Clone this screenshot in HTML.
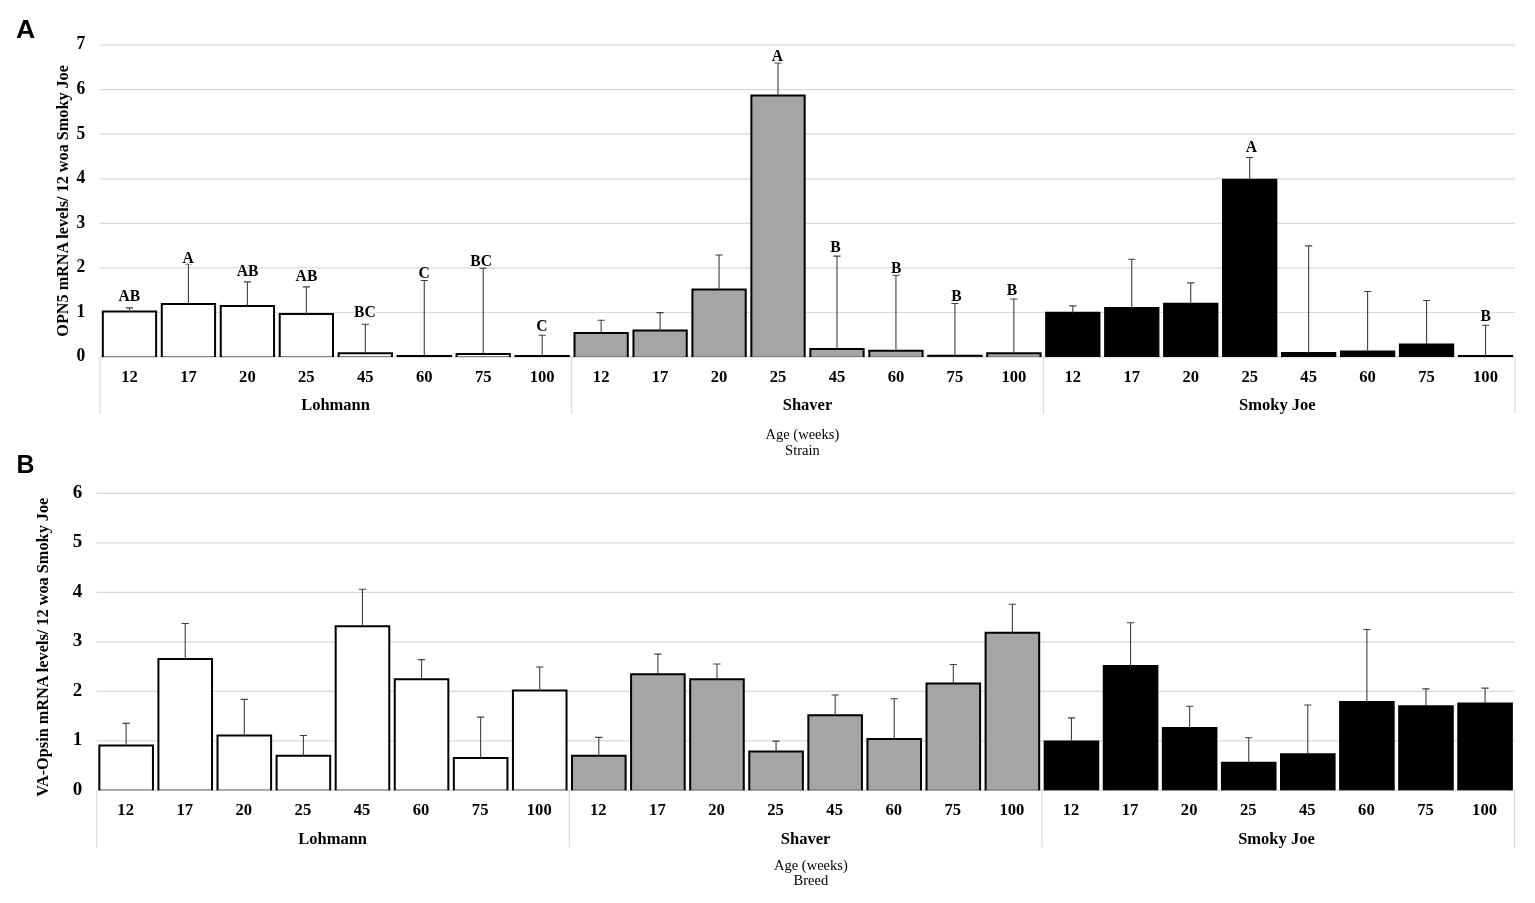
<!DOCTYPE html>
<html lang="en"><head><meta charset="utf-8"><title>OPN5 and VA-Opsin mRNA levels</title>
<style>
html,body{margin:0;padding:0;background:#fff;}
body{width:1535px;height:903px;overflow:hidden;}
svg{display:block;}
.grid{stroke:#d9d9d9;stroke-width:1.2;}
.sep{stroke:#d9d9d9;stroke-width:1.1;}
.bar{stroke:#000;stroke-width:2;fill:none;}
.base{stroke:#808080;stroke-width:1.2;}
.err{stroke:#404040;stroke-width:1.1;fill:none;}
text{font-family:"Liberation Serif","Times New Roman",serif;fill:#000;}
.tick{font-size:17.5px;font-weight:bold;text-anchor:end;}
.cat{font-size:17.5px;font-weight:bold;text-anchor:middle;}
.grp{font-size:16.5px;font-weight:bold;text-anchor:middle;}
.let{font-size:16.8px;font-weight:bold;text-anchor:middle;paint-order:stroke;stroke:#fff;stroke-width:2.5px;stroke-linejoin:round;}
.ytitle{font-size:16.14px;font-weight:bold;text-anchor:middle;dominant-baseline:central;}
.ax{font-size:14.5px;text-anchor:middle;}
.panel{font-family:"Liberation Sans",Arial,sans-serif;font-size:26px;font-weight:bold;}
</style></head>
<body>
<svg width="1535" height="903" viewBox="0 0 1535 903">
<rect width="1535" height="903" fill="#fff"/>
<line x1="100" y1="312.52" x2="1515" y2="312.52" class="grid"/>
<line x1="100" y1="267.94" x2="1515" y2="267.94" class="grid"/>
<line x1="100" y1="223.36" x2="1515" y2="223.36" class="grid"/>
<line x1="100" y1="178.78" x2="1515" y2="178.78" class="grid"/>
<line x1="100" y1="134.2" x2="1515" y2="134.2" class="grid"/>
<line x1="100" y1="89.62" x2="1515" y2="89.62" class="grid"/>
<line x1="100" y1="45.04" x2="1515" y2="45.04" class="grid"/>
<text transform="translate(85.2 361.4) scale(1 1.05)" class="tick" style="font-size:17.5px">0</text>
<text transform="translate(85.2 316.82) scale(1 1.05)" class="tick" style="font-size:17.5px">1</text>
<text transform="translate(85.2 272.24) scale(1 1.05)" class="tick" style="font-size:17.5px">2</text>
<text transform="translate(85.2 227.66) scale(1 1.05)" class="tick" style="font-size:17.5px">3</text>
<text transform="translate(85.2 183.08) scale(1 1.05)" class="tick" style="font-size:17.5px">4</text>
<text transform="translate(85.2 138.5) scale(1 1.05)" class="tick" style="font-size:17.5px">5</text>
<text transform="translate(85.2 93.92) scale(1 1.05)" class="tick" style="font-size:17.5px">6</text>
<text transform="translate(85.2 49.34) scale(1 1.05)" class="tick" style="font-size:17.5px">7</text>
<line x1="100" y1="357.1" x2="1515" y2="357.1" class="grid"/>
<rect x="102.83" y="311.4" width="53.3" height="45.6" fill="#ffffff"/>
<line x1="101.83" y1="356.5" x2="157.13" y2="356.5" class="base"/>
<path d="M102.83 357V311.4H156.13V357" class="bar"/>
<rect x="161.79" y="304" width="53.3" height="53" fill="#ffffff"/>
<line x1="160.79" y1="356.5" x2="216.09" y2="356.5" class="base"/>
<path d="M161.79 357V304H215.09V357" class="bar"/>
<rect x="220.75" y="306" width="53.3" height="51" fill="#ffffff"/>
<line x1="219.75" y1="356.5" x2="275.05" y2="356.5" class="base"/>
<path d="M220.75 357V306H274.05V357" class="bar"/>
<rect x="279.7" y="313.9" width="53.3" height="43.1" fill="#ffffff"/>
<line x1="278.7" y1="356.5" x2="334" y2="356.5" class="base"/>
<path d="M279.7 357V313.9H333V357" class="bar"/>
<rect x="338.66" y="353.3" width="53.3" height="3.7" fill="#ffffff"/>
<line x1="337.66" y1="356.5" x2="392.96" y2="356.5" class="base"/>
<path d="M338.66 357V353.3H391.96V357" class="bar"/>
<rect x="397.62" y="356" width="53.3" height="1" fill="#ffffff"/>
<line x1="396.62" y1="356.5" x2="451.92" y2="356.5" class="base"/>
<path d="M397.62 357V356H450.92V357" class="bar"/>
<rect x="456.58" y="354" width="53.3" height="3" fill="#ffffff"/>
<line x1="455.58" y1="356.5" x2="510.88" y2="356.5" class="base"/>
<path d="M456.58 357V354H509.88V357" class="bar"/>
<rect x="515.54" y="355.9" width="53.3" height="1.1" fill="#ffffff"/>
<line x1="514.54" y1="356.5" x2="569.84" y2="356.5" class="base"/>
<path d="M515.54 357V355.9H568.84V357" class="bar"/>
<rect x="574.5" y="332.9" width="53.3" height="24.1" fill="#a5a5a5"/>
<line x1="573.5" y1="356.5" x2="628.8" y2="356.5" class="base"/>
<path d="M574.5 357V332.9H627.8V357" class="bar"/>
<rect x="633.45" y="330.6" width="53.3" height="26.4" fill="#a5a5a5"/>
<line x1="632.45" y1="356.5" x2="687.75" y2="356.5" class="base"/>
<path d="M633.45 357V330.6H686.75V357" class="bar"/>
<rect x="692.41" y="289.5" width="53.3" height="67.5" fill="#a5a5a5"/>
<line x1="691.41" y1="356.5" x2="746.71" y2="356.5" class="base"/>
<path d="M692.41 357V289.5H745.71V357" class="bar"/>
<rect x="751.37" y="95.5" width="53.3" height="261.5" fill="#a5a5a5"/>
<line x1="750.37" y1="356.5" x2="805.67" y2="356.5" class="base"/>
<path d="M751.37 357V95.5H804.67V357" class="bar"/>
<rect x="810.33" y="349.05" width="53.3" height="7.95" fill="#a5a5a5"/>
<line x1="809.33" y1="356.5" x2="864.63" y2="356.5" class="base"/>
<path d="M810.33 357V349.05H863.63V357" class="bar"/>
<rect x="869.29" y="350.8" width="53.3" height="6.2" fill="#a5a5a5"/>
<line x1="868.29" y1="356.5" x2="923.59" y2="356.5" class="base"/>
<path d="M869.29 357V350.8H922.59V357" class="bar"/>
<rect x="928.25" y="355.85" width="53.3" height="1.15" fill="#a5a5a5"/>
<line x1="927.25" y1="356.5" x2="982.55" y2="356.5" class="base"/>
<path d="M928.25 357V355.85H981.55V357" class="bar"/>
<rect x="987.2" y="353.3" width="53.3" height="3.7" fill="#a5a5a5"/>
<line x1="986.2" y1="356.5" x2="1041.5" y2="356.5" class="base"/>
<path d="M987.2 357V353.3H1040.5V357" class="bar"/>
<rect x="1046.16" y="312.8" width="53.3" height="44.2" fill="#000000"/>
<path d="M1046.16 357V312.8H1099.46V357" class="bar"/>
<rect x="1105.12" y="308.1" width="53.3" height="48.9" fill="#000000"/>
<path d="M1105.12 357V308.1H1158.42V357" class="bar"/>
<rect x="1164.08" y="303.8" width="53.3" height="53.2" fill="#000000"/>
<path d="M1164.08 357V303.8H1217.38V357" class="bar"/>
<rect x="1223.04" y="179.8" width="53.3" height="177.2" fill="#000000"/>
<path d="M1223.04 357V179.8H1276.34V357" class="bar"/>
<rect x="1282" y="353.05" width="53.3" height="3.95" fill="#000000"/>
<path d="M1282 357V353.05H1335.3V357" class="bar"/>
<rect x="1340.95" y="351.6" width="53.3" height="5.4" fill="#000000"/>
<path d="M1340.95 357V351.6H1394.25V357" class="bar"/>
<rect x="1399.91" y="344.45" width="53.3" height="12.55" fill="#000000"/>
<path d="M1399.91 357V344.45H1453.21V357" class="bar"/>
<rect x="1458.87" y="355.95" width="53.3" height="1.05" fill="#000000"/>
<path d="M1458.87 357V355.95H1512.17V357" class="bar"/>
<line x1="100" y1="357.6" x2="100" y2="414" class="sep"/>
<line x1="571.67" y1="357.6" x2="571.67" y2="414" class="sep"/>
<line x1="1043.33" y1="357.6" x2="1043.33" y2="414" class="sep"/>
<line x1="1515" y1="357.6" x2="1515" y2="414" class="sep"/>
<path d="M129.48 311.4V307.9M125.88 307.9H133.08" class="err"/>
<path d="M188.44 304V264M184.84 264H192.04" class="err"/>
<path d="M247.4 306V281.9M243.8 281.9H251" class="err"/>
<path d="M306.35 313.9V286.9M302.75 286.9H309.95" class="err"/>
<path d="M365.31 353.3V324.3M361.71 324.3H368.91" class="err"/>
<path d="M424.27 356V280.5M420.67 280.5H427.87" class="err"/>
<path d="M483.23 354V268.3M479.63 268.3H486.83" class="err"/>
<path d="M542.19 355.9V335.3M538.59 335.3H545.79" class="err"/>
<path d="M601.15 332.9V320.2M597.55 320.2H604.75" class="err"/>
<path d="M660.1 330.6V312.6M656.5 312.6H663.7" class="err"/>
<path d="M719.06 289.5V255M715.46 255H722.66" class="err"/>
<path d="M778.02 95.5V63M774.42 63H781.62" class="err"/>
<path d="M836.98 349.05V256.1M833.38 256.1H840.58" class="err"/>
<path d="M895.94 350.8V275.3M892.34 275.3H899.54" class="err"/>
<path d="M954.9 355.85V303.5M951.3 303.5H958.5" class="err"/>
<path d="M1013.85 353.3V299M1010.25 299H1017.45" class="err"/>
<path d="M1072.81 312.8V305.9M1069.21 305.9H1076.41" class="err"/>
<path d="M1131.77 308.1V259.3M1128.17 259.3H1135.37" class="err"/>
<path d="M1190.73 303.8V282.9M1187.13 282.9H1194.33" class="err"/>
<path d="M1249.69 179.8V157.5M1246.09 157.5H1253.29" class="err"/>
<path d="M1308.65 353.05V245.9M1305.05 245.9H1312.25" class="err"/>
<path d="M1367.6 351.6V291.5M1364 291.5H1371.2" class="err"/>
<path d="M1426.56 344.45V300.5M1422.96 300.5H1430.16" class="err"/>
<path d="M1485.52 355.95V325.3M1481.92 325.3H1489.12" class="err"/>
<text transform="translate(129.48 382.1) scale(0.95 1)" class="cat">12</text>
<text transform="translate(188.44 382.1) scale(0.95 1)" class="cat">17</text>
<text transform="translate(247.4 382.1) scale(0.95 1)" class="cat">20</text>
<text transform="translate(306.35 382.1) scale(0.95 1)" class="cat">25</text>
<text transform="translate(365.31 382.1) scale(0.95 1)" class="cat">45</text>
<text transform="translate(424.27 382.1) scale(0.95 1)" class="cat">60</text>
<text transform="translate(483.23 382.1) scale(0.95 1)" class="cat">75</text>
<text transform="translate(542.19 382.1) scale(0.95 1)" class="cat">100</text>
<text transform="translate(601.15 382.1) scale(0.95 1)" class="cat">12</text>
<text transform="translate(660.1 382.1) scale(0.95 1)" class="cat">17</text>
<text transform="translate(719.06 382.1) scale(0.95 1)" class="cat">20</text>
<text transform="translate(778.02 382.1) scale(0.95 1)" class="cat">25</text>
<text transform="translate(836.98 382.1) scale(0.95 1)" class="cat">45</text>
<text transform="translate(895.94 382.1) scale(0.95 1)" class="cat">60</text>
<text transform="translate(954.9 382.1) scale(0.95 1)" class="cat">75</text>
<text transform="translate(1013.85 382.1) scale(0.95 1)" class="cat">100</text>
<text transform="translate(1072.81 382.1) scale(0.95 1)" class="cat">12</text>
<text transform="translate(1131.77 382.1) scale(0.95 1)" class="cat">17</text>
<text transform="translate(1190.73 382.1) scale(0.95 1)" class="cat">20</text>
<text transform="translate(1249.69 382.1) scale(0.95 1)" class="cat">25</text>
<text transform="translate(1308.65 382.1) scale(0.95 1)" class="cat">45</text>
<text transform="translate(1367.6 382.1) scale(0.95 1)" class="cat">60</text>
<text transform="translate(1426.56 382.1) scale(0.95 1)" class="cat">75</text>
<text transform="translate(1485.52 382.1) scale(0.95 1)" class="cat">100</text>
<text x="335.53" y="410.4" class="grp">Lohmann</text>
<text x="807.5" y="410.4" class="grp">Shaver</text>
<text x="1277.37" y="410.4" class="grp">Smoky Joe</text>
<text transform="translate(129.35 300.8) scale(0.93 1)" class="let">AB</text>
<text transform="translate(188.05 263) scale(0.93 1)" class="let">A</text>
<text transform="translate(247.5 275.8) scale(0.93 1)" class="let">AB</text>
<text transform="translate(306.45 281) scale(0.93 1)" class="let">AB</text>
<text transform="translate(364.9 316.8) scale(0.93 1)" class="let">BC</text>
<text transform="translate(424.25 277.6) scale(0.93 1)" class="let">C</text>
<text transform="translate(481.1 265.8) scale(0.93 1)" class="let">BC</text>
<text transform="translate(541.85 330.8) scale(0.93 1)" class="let">C</text>
<text transform="translate(777.4 60.5) scale(0.93 1)" class="let">A</text>
<text transform="translate(835.4 252.4) scale(0.93 1)" class="let">B</text>
<text transform="translate(896.15 273) scale(0.93 1)" class="let">B</text>
<text transform="translate(956.35 301.1) scale(0.93 1)" class="let">B</text>
<text transform="translate(1011.85 295.2) scale(0.93 1)" class="let">B</text>
<text transform="translate(1251.45 152.3) scale(0.93 1)" class="let">A</text>
<text transform="translate(1485.8 320.9) scale(0.93 1)" class="let">B</text>
<text transform="translate(63.2 200.9) rotate(-90)" class="ytitle" style="font-size:16.2px">OPN5 mRNA levels/ 12 woa Smoky Joe</text>
<text x="802.4" y="438.8" class="ax">Age (weeks)</text>
<text x="802.4" y="454.9" class="ax">Strain</text>
<line x1="96.6" y1="740.95" x2="1514.6" y2="740.95" class="grid"/>
<line x1="96.6" y1="691.45" x2="1514.6" y2="691.45" class="grid"/>
<line x1="96.6" y1="641.95" x2="1514.6" y2="641.95" class="grid"/>
<line x1="96.6" y1="592.45" x2="1514.6" y2="592.45" class="grid"/>
<line x1="96.6" y1="542.95" x2="1514.6" y2="542.95" class="grid"/>
<line x1="96.6" y1="493.45" x2="1514.6" y2="493.45" class="grid"/>
<text transform="translate(82.2 794.6) scale(1 1.03)" class="tick" style="font-size:19px">0</text>
<text transform="translate(82.2 745.1) scale(1 1.03)" class="tick" style="font-size:19px">1</text>
<text transform="translate(82.2 695.6) scale(1 1.03)" class="tick" style="font-size:19px">2</text>
<text transform="translate(82.2 646.1) scale(1 1.03)" class="tick" style="font-size:19px">3</text>
<text transform="translate(82.2 596.6) scale(1 1.03)" class="tick" style="font-size:19px">4</text>
<text transform="translate(82.2 547.1) scale(1 1.03)" class="tick" style="font-size:19px">5</text>
<text transform="translate(82.2 497.6) scale(1 1.03)" class="tick" style="font-size:19px">6</text>
<line x1="96.6" y1="790.45" x2="1514.6" y2="790.45" class="grid"/>
<rect x="99.34" y="745.4" width="53.6" height="44.9" fill="#ffffff"/>
<line x1="98.34" y1="789.8" x2="153.94" y2="789.8" class="base"/>
<path d="M99.34 790.3V745.4H152.94V790.3" class="bar"/>
<rect x="158.42" y="659" width="53.6" height="131.3" fill="#ffffff"/>
<line x1="157.42" y1="789.8" x2="213.03" y2="789.8" class="base"/>
<path d="M158.42 790.3V659H212.03V790.3" class="bar"/>
<rect x="217.51" y="735.6" width="53.6" height="54.7" fill="#ffffff"/>
<line x1="216.51" y1="789.8" x2="272.11" y2="789.8" class="base"/>
<path d="M217.51 790.3V735.6H271.11V790.3" class="bar"/>
<rect x="276.59" y="755.8" width="53.6" height="34.5" fill="#ffffff"/>
<line x1="275.59" y1="789.8" x2="331.19" y2="789.8" class="base"/>
<path d="M276.59 790.3V755.8H330.19V790.3" class="bar"/>
<rect x="335.68" y="626.2" width="53.6" height="164.1" fill="#ffffff"/>
<line x1="334.68" y1="789.8" x2="390.28" y2="789.8" class="base"/>
<path d="M335.68 790.3V626.2H389.28V790.3" class="bar"/>
<rect x="394.76" y="679.3" width="53.6" height="111" fill="#ffffff"/>
<line x1="393.76" y1="789.8" x2="449.36" y2="789.8" class="base"/>
<path d="M394.76 790.3V679.3H448.36V790.3" class="bar"/>
<rect x="453.84" y="757.9" width="53.6" height="32.4" fill="#ffffff"/>
<line x1="452.84" y1="789.8" x2="508.44" y2="789.8" class="base"/>
<path d="M453.84 790.3V757.9H507.44V790.3" class="bar"/>
<rect x="512.93" y="690.4" width="53.6" height="99.9" fill="#ffffff"/>
<line x1="511.93" y1="789.8" x2="567.52" y2="789.8" class="base"/>
<path d="M512.93 790.3V690.4H566.52V790.3" class="bar"/>
<rect x="572.01" y="755.8" width="53.6" height="34.5" fill="#a5a5a5"/>
<line x1="571.01" y1="789.8" x2="626.61" y2="789.8" class="base"/>
<path d="M572.01 790.3V755.8H625.61V790.3" class="bar"/>
<rect x="631.09" y="674.3" width="53.6" height="116" fill="#a5a5a5"/>
<line x1="630.09" y1="789.8" x2="685.69" y2="789.8" class="base"/>
<path d="M631.09 790.3V674.3H684.69V790.3" class="bar"/>
<rect x="690.18" y="679.2" width="53.6" height="111.1" fill="#a5a5a5"/>
<line x1="689.18" y1="789.8" x2="744.77" y2="789.8" class="base"/>
<path d="M690.18 790.3V679.2H743.77V790.3" class="bar"/>
<rect x="749.26" y="751.5" width="53.6" height="38.8" fill="#a5a5a5"/>
<line x1="748.26" y1="789.8" x2="803.86" y2="789.8" class="base"/>
<path d="M749.26 790.3V751.5H802.86V790.3" class="bar"/>
<rect x="808.34" y="715.3" width="53.6" height="75" fill="#a5a5a5"/>
<line x1="807.34" y1="789.8" x2="862.94" y2="789.8" class="base"/>
<path d="M808.34 790.3V715.3H861.94V790.3" class="bar"/>
<rect x="867.43" y="738.9" width="53.6" height="51.4" fill="#a5a5a5"/>
<line x1="866.43" y1="789.8" x2="922.02" y2="789.8" class="base"/>
<path d="M867.43 790.3V738.9H921.02V790.3" class="bar"/>
<rect x="926.51" y="683.6" width="53.6" height="106.7" fill="#a5a5a5"/>
<line x1="925.51" y1="789.8" x2="981.11" y2="789.8" class="base"/>
<path d="M926.51 790.3V683.6H980.11V790.3" class="bar"/>
<rect x="985.59" y="632.7" width="53.6" height="157.6" fill="#a5a5a5"/>
<line x1="984.59" y1="789.8" x2="1040.19" y2="789.8" class="base"/>
<path d="M985.59 790.3V632.7H1039.19V790.3" class="bar"/>
<rect x="1044.67" y="741.4" width="53.6" height="48.9" fill="#000000"/>
<path d="M1044.67 790.3V741.4H1098.27V790.3" class="bar"/>
<rect x="1103.76" y="666.1" width="53.6" height="124.2" fill="#000000"/>
<path d="M1103.76 790.3V666.1H1157.36V790.3" class="bar"/>
<rect x="1162.84" y="728.1" width="53.6" height="62.2" fill="#000000"/>
<path d="M1162.84 790.3V728.1H1216.44V790.3" class="bar"/>
<rect x="1221.92" y="762.7" width="53.6" height="27.6" fill="#000000"/>
<path d="M1221.92 790.3V762.7H1275.52V790.3" class="bar"/>
<rect x="1281.01" y="754.3" width="53.6" height="36" fill="#000000"/>
<path d="M1281.01 790.3V754.3H1334.61V790.3" class="bar"/>
<rect x="1340.09" y="702" width="53.6" height="88.3" fill="#000000"/>
<path d="M1340.09 790.3V702H1393.69V790.3" class="bar"/>
<rect x="1399.17" y="706.35" width="53.6" height="83.95" fill="#000000"/>
<path d="M1399.17 790.3V706.35H1452.77V790.3" class="bar"/>
<rect x="1458.26" y="703.4" width="53.6" height="86.9" fill="#000000"/>
<path d="M1458.26 790.3V703.4H1511.86V790.3" class="bar"/>
<line x1="96.6" y1="790.95" x2="96.6" y2="847.2" class="sep"/>
<line x1="569.27" y1="790.95" x2="569.27" y2="847.2" class="sep"/>
<line x1="1041.93" y1="790.95" x2="1041.93" y2="847.2" class="sep"/>
<line x1="1514.6" y1="790.95" x2="1514.6" y2="847.2" class="sep"/>
<path d="M126.14 745.4V723.4M122.54 723.4H129.74" class="err"/>
<path d="M185.22 659V623.5M181.62 623.5H188.82" class="err"/>
<path d="M244.31 735.6V699.4M240.71 699.4H247.91" class="err"/>
<path d="M303.39 755.8V735.5M299.79 735.5H306.99" class="err"/>
<path d="M362.48 626.2V589.2M358.88 589.2H366.08" class="err"/>
<path d="M421.56 679.3V659.6M417.96 659.6H425.16" class="err"/>
<path d="M480.64 757.9V717.1M477.04 717.1H484.24" class="err"/>
<path d="M539.73 690.4V667M536.12 667H543.33" class="err"/>
<path d="M598.81 755.8V737.4M595.21 737.4H602.41" class="err"/>
<path d="M657.89 674.3V654.1M654.29 654.1H661.49" class="err"/>
<path d="M716.98 679.2V664M713.38 664H720.58" class="err"/>
<path d="M776.06 751.5V741.1M772.46 741.1H779.66" class="err"/>
<path d="M835.14 715.3V695M831.54 695H838.74" class="err"/>
<path d="M894.23 738.9V698.7M890.62 698.7H897.83" class="err"/>
<path d="M953.31 683.6V664.5M949.71 664.5H956.91" class="err"/>
<path d="M1012.39 632.7V604.3M1008.79 604.3H1015.99" class="err"/>
<path d="M1071.47 741.4V717.9M1067.88 717.9H1075.07" class="err"/>
<path d="M1130.56 666.1V622.7M1126.96 622.7H1134.16" class="err"/>
<path d="M1189.64 728.1V706.3M1186.04 706.3H1193.24" class="err"/>
<path d="M1248.72 762.7V737.8M1245.12 737.8H1252.32" class="err"/>
<path d="M1307.81 754.3V705M1304.21 705H1311.41" class="err"/>
<path d="M1366.89 702V629.5M1363.29 629.5H1370.49" class="err"/>
<path d="M1425.97 706.35V688.9M1422.38 688.9H1429.57" class="err"/>
<path d="M1485.06 703.4V688.1M1481.46 688.1H1488.66" class="err"/>
<text transform="translate(125.64 814.9) scale(0.95 1)" class="cat">12</text>
<text transform="translate(184.72 814.9) scale(0.95 1)" class="cat">17</text>
<text transform="translate(243.81 814.9) scale(0.95 1)" class="cat">20</text>
<text transform="translate(302.89 814.9) scale(0.95 1)" class="cat">25</text>
<text transform="translate(361.98 814.9) scale(0.95 1)" class="cat">45</text>
<text transform="translate(421.06 814.9) scale(0.95 1)" class="cat">60</text>
<text transform="translate(480.14 814.9) scale(0.95 1)" class="cat">75</text>
<text transform="translate(539.23 814.9) scale(0.95 1)" class="cat">100</text>
<text transform="translate(598.31 814.9) scale(0.95 1)" class="cat">12</text>
<text transform="translate(657.39 814.9) scale(0.95 1)" class="cat">17</text>
<text transform="translate(716.48 814.9) scale(0.95 1)" class="cat">20</text>
<text transform="translate(775.56 814.9) scale(0.95 1)" class="cat">25</text>
<text transform="translate(834.64 814.9) scale(0.95 1)" class="cat">45</text>
<text transform="translate(893.73 814.9) scale(0.95 1)" class="cat">60</text>
<text transform="translate(952.81 814.9) scale(0.95 1)" class="cat">75</text>
<text transform="translate(1011.89 814.9) scale(0.95 1)" class="cat">100</text>
<text transform="translate(1070.97 814.9) scale(0.95 1)" class="cat">12</text>
<text transform="translate(1130.06 814.9) scale(0.95 1)" class="cat">17</text>
<text transform="translate(1189.14 814.9) scale(0.95 1)" class="cat">20</text>
<text transform="translate(1248.22 814.9) scale(0.95 1)" class="cat">25</text>
<text transform="translate(1307.31 814.9) scale(0.95 1)" class="cat">45</text>
<text transform="translate(1366.39 814.9) scale(0.95 1)" class="cat">60</text>
<text transform="translate(1425.47 814.9) scale(0.95 1)" class="cat">75</text>
<text transform="translate(1484.56 814.9) scale(0.95 1)" class="cat">100</text>
<text x="332.63" y="844.1" class="grp">Lohmann</text>
<text x="805.6" y="844.1" class="grp">Shaver</text>
<text x="1276.47" y="844.1" class="grp">Smoky Joe</text>
<text transform="translate(42.8 647.2) rotate(-90)" class="ytitle" style="font-size:16.3px">VA-Opsin mRNA levels/ 12 woa Smoky Joe</text>
<text x="810.9" y="869.7" class="ax">Age (weeks)</text>
<text x="810.9" y="884.8" class="ax">Breed</text>
<text x="16.0" y="38.1" class="panel" style="font-size:26.6px">A</text>
<text transform="translate(16.6 473.1) scale(0.96 1)" class="panel">B</text>
</svg>
</body></html>
